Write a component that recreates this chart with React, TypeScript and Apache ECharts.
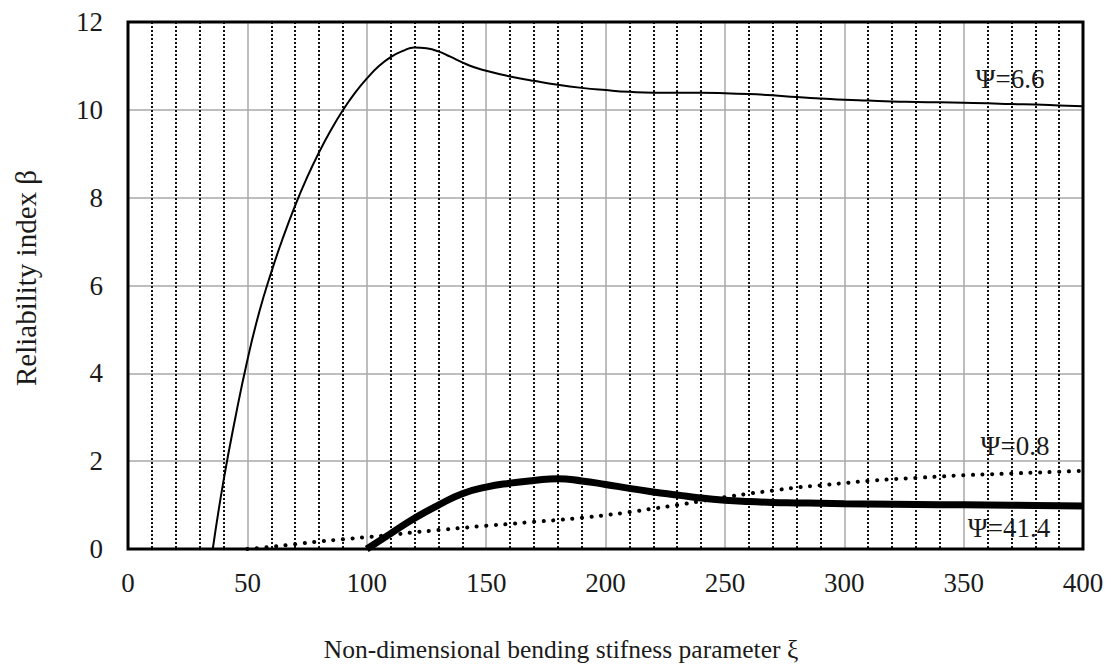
import React, { useEffect, useRef } from "react";
import * as echarts from "echarts";

// Ψ = 6.6 (thin solid line)
const psi66X = [35.5, 40, 45, 50, 55, 60, 65, 70, 75, 80, 85, 90, 95, 100, 105, 110, 115, 120, 125, 130, 135, 140, 145, 150, 155, 160, 170, 180, 190, 200, 210, 220, 230, 240, 250, 260, 270, 280, 290, 300, 310, 320, 330, 340, 350, 360, 370, 380, 390, 400];
const psi66Y = [0, 1.55, 3.0, 4.3, 5.4, 6.3, 7.1, 7.82, 8.46, 9.03, 9.54, 9.99, 10.38, 10.71, 10.99, 11.2, 11.34, 11.42, 11.4, 11.33, 11.21, 11.08, 10.97, 10.89, 10.82, 10.76, 10.66, 10.57, 10.5, 10.45, 10.41, 10.39, 10.39, 10.39, 10.38, 10.36, 10.33, 10.29, 10.26, 10.23, 10.21, 10.19, 10.18, 10.17, 10.16, 10.15, 10.13, 10.12, 10.1, 10.08];

// Ψ = 41.4 (thick solid line)
const psi414X = [100, 110, 120, 130, 140, 150, 160, 170, 180, 190, 200, 210, 220, 230, 240, 250, 260, 270, 280, 290, 300, 320, 340, 360, 380, 400];
const psi414Y = [0, 0.35, 0.7, 1.0, 1.26, 1.41, 1.5, 1.56, 1.6, 1.55, 1.47, 1.38, 1.3, 1.23, 1.16, 1.11, 1.08, 1.06, 1.05, 1.04, 1.03, 1.02, 1.01, 1.0, 0.99, 0.98];

// Ψ = 0.8 (dotted line)
const psi08X = [50, 60, 70, 80, 90, 100, 110, 120, 130, 140, 150, 160, 170, 180, 190, 200, 210, 220, 230, 240, 250, 260, 270, 280, 290, 300, 310, 320, 330, 340, 350, 360, 370, 380, 390, 400];
const psi08Y = [0, 0.05, 0.11, 0.17, 0.22, 0.27, 0.32, 0.38, 0.43, 0.48, 0.53, 0.57, 0.62, 0.66, 0.71, 0.77, 0.84, 0.92, 1.0, 1.09, 1.18, 1.26, 1.33, 1.4, 1.45, 1.5, 1.55, 1.59, 1.62, 1.65, 1.68, 1.7, 1.72, 1.74, 1.76, 1.78];

const xTicks = [0, 50, 100, 150, 200, 250, 300, 350, 400];
const yTicks = [0, 2, 4, 6, 8, 10, 12];

const xTitle = "Non-dimensional bending stifness parameter ξ";
const yTitle = "Reliability index β";

const seriesLabels = [
  { text: "Ψ=6.6", x: 1010, y: 79 },
  { text: "Ψ=0.8", x: 1015, y: 446 },
  { text: "Ψ=41.4", x: 1009, y: 528 },
];

const FONT = "'Liberation Serif', 'Times New Roman', serif";
const TEXT = "#1a1a1a";

const zip = (xs: number[], ys: number[]) => xs.map((x, i) => [x, ys[i]]);

export default function App() {
  const ref = useRef<HTMLDivElement>(null);
  useEffect(() => {
    if (!ref.current) return;
    const chart = echarts.init(ref.current, undefined, { renderer: "svg" });
    chart.setOption({
      animation: false,
      backgroundColor: "#ffffff",
      grid: {
        left: 128,
        right: 28,
        top: 22,
        bottom: 119,
        show: true,
        borderColor: "#000",
        borderWidth: 3,
        backgroundColor: "transparent",
        z: 10,
      },
      xAxis: {
        type: "value",
        min: xTicks[0],
        max: xTicks[xTicks.length - 1],
        interval: 50,
        axisLine: { show: false },
        axisTick: { show: false },
        axisLabel: { fontFamily: FONT, fontSize: 27, color: TEXT, margin: 20 },
        splitLine: { show: true, lineStyle: { color: "#a8a8a8", width: 1.5 } },
        minorTick: { show: false, splitNumber: 5 },
        minorSplitLine: { show: true, lineStyle: { color: "#111", width: 2, type: [2, 2] } },
      },
      yAxis: {
        type: "value",
        min: yTicks[0],
        max: yTicks[yTicks.length - 1],
        interval: 2,
        axisLine: { show: false },
        axisTick: { show: false },
        axisLabel: { fontFamily: FONT, fontSize: 27, color: TEXT, margin: 25 },
        splitLine: { show: true, lineStyle: { color: "#a8a8a8", width: 1.5 } },
      },
      series: [
        {
          name: "Ψ=6.6",
          type: "line",
          data: zip(psi66X, psi66Y),
          smooth: 0.5,
          symbol: "none",
          lineStyle: { color: "#000", width: 2 },
          z: 5,
        },
        {
          name: "Ψ=41.4",
          type: "line",
          data: zip(psi414X, psi414Y),
          smooth: 0.5,
          symbol: "none",
          lineStyle: { color: "#000", width: 7 },
          z: 5,
        },
        {
          name: "Ψ=0.8",
          type: "line",
          data: zip(psi08X, psi08Y),
          smooth: 0.5,
          symbol: "none",
          lineStyle: { color: "#000", width: 4, type: [0.1, 9.5], cap: "round" },
          z: 5,
        },
      ],
      graphic: [
        ...seriesLabels.map((l) => ({
          type: "text",
          x: l.x,
          y: l.y,
          z: 20,
          style: {
            text: l.text,
            fontFamily: FONT,
            fontSize: 27,
            fill: TEXT,
            align: "center",
            verticalAlign: "middle",
          },
        })),
        {
          type: "text",
          x: 561,
          y: 649,
          style: {
            text: xTitle,
            fontFamily: FONT,
            fontSize: 25.5,
            fill: TEXT,
            align: "center",
            verticalAlign: "middle",
          },
        },
        {
          type: "text",
          x: 26,
          y: 278,
          rotation: Math.PI / 2,
          style: {
            text: yTitle,
            fontFamily: FONT,
            fontSize: 29,
            fill: TEXT,
            align: "center",
            verticalAlign: "middle",
          },
        },
      ],
    });
    return () => chart.dispose();
  }, []);
  return (
    <div
      ref={ref}
      style={{ position: "fixed", left: 0, top: 0, width: 1111, height: 668, background: "#fff" }}
    />
  );
}
